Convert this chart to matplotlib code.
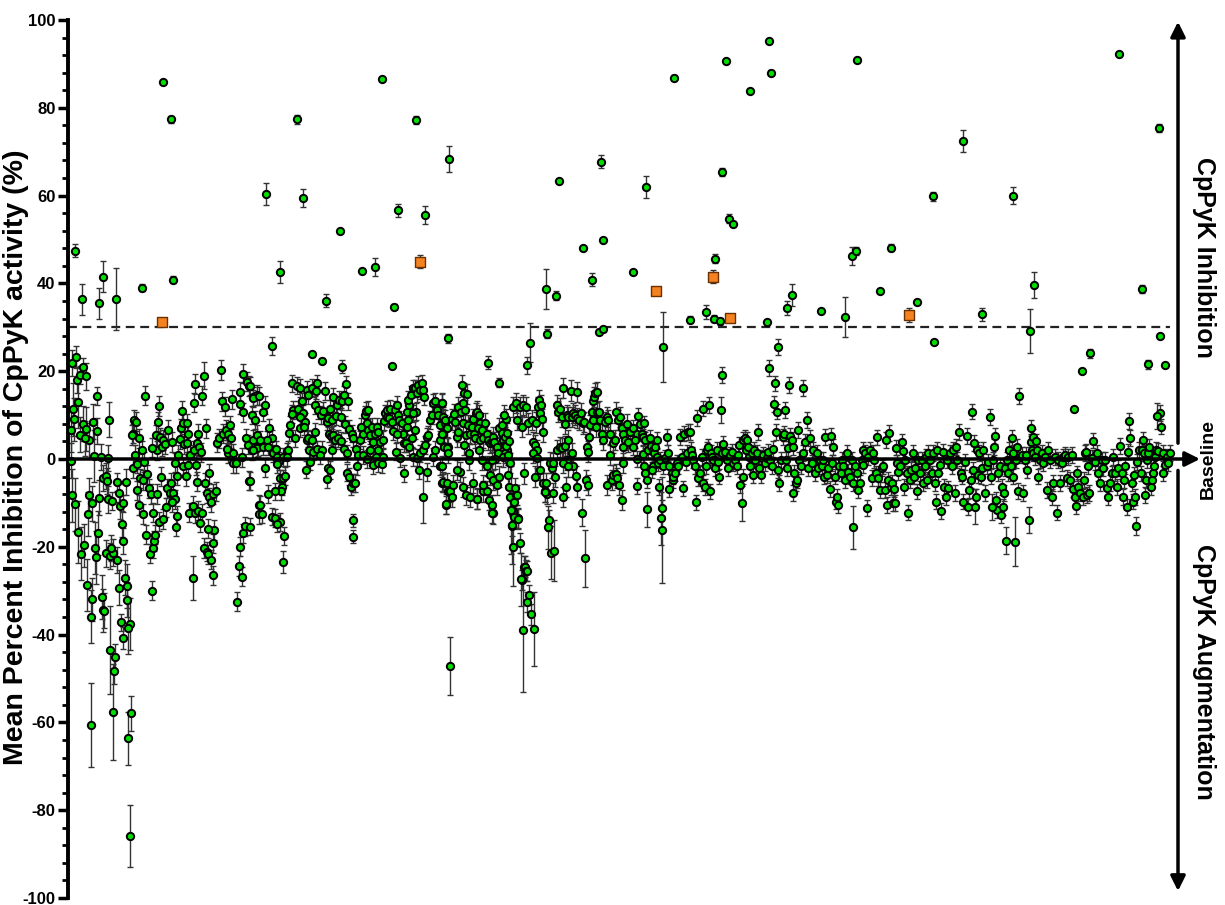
import numpy as np
import matplotlib
matplotlib.use('Agg')
import matplotlib.pyplot as plt
from matplotlib.ticker import MultipleLocator

plt.rcParams['font.family'] = ['Liberation Sans', 'DejaVu Sans']

# x = position of the compound in the screening order, y = mean % inhibition
# first compounds on the plate: (position, mean, SD)
block_a = [
    (4, 21.8, 3), (8, 23.3, 2.5), (9, 18, 3), (12, 19.1, 2), (15, 21, 2), (18, 18.8, 3), (5, 11.3, 6), (6, 9, 5),
    (10, 13, 6), (3, 6.6, 5), (12, 5.5, 4), (15, 8, 4), (18, 6.8, 5), (21, 4.3, 4), (17, 4.7, 4), (25, 8.5, 4),
    (29, 14.4, 2), (29, 6.4, 3), (26, 0.7, 6), (33, 0.5, 3), (40, 0.3, 3), (41, 8.9, 4), (3, -0.4, 4),
    (4, -8.3, 6), (7, -10.3, 6), (10, -16.6, 7), (13, -21.6, 6), (16, -19.7, 5), (20, -12.6, 5), (21, -8.3, 4),
    (24, -10.1, 4), (19, -28.7, 6), (24, -32, 5), (23, -35.9, 6), (27, -20.3, 6), (28, -22.4, 6), (30, -16.9, 5),
    (31, -8.8, 4), (34, -31.5, 5), (35, -34.5, 5), (35, -4.4, 3), (38, -3.8, 3), (39, -5, 3), (40, -9.2, 3),
    (44, -9.6, 2), (38, -21.5, 3), (42, -22.1, 3), (45, -21.3, 3), (43, -20.3, 3), (49, -23, 3), (49, -5.2, 2),
    (51, -7.8, 2), (52, -10.7, 3), (55, -10.1, 2), (54, -14.8, 3), (55, -18.7, 3), (57, -27, 4), (59, -28.9, 5),
    (59, -32.1, 4), (58, -5.2, 3), (51, -29.3, 4),
    (23, -60.6, 9.5), (36, -34.6, 4), (42, -43.5, 10), (47, -45.1, 3), (46, -48.3, 3), (45, -57.6, 11),
    (53, -37.2, 2), (55, -40.8, 2.5), (62, -37.6, 6), (60, -38.5, 6), (60, -63.6, 6), (63, -57.9, 4), (62, -85.9, 7),
]

# dense blocks: (position, mean); one typical SD per block
block_b_sd = 2.2
block_b = [
    (65, 5.8), (66, 8.9), (68, 8.5), (64, 5.5), (71, 4.7), (74, 2), (67, 1), (65, -2.1), (69, -1.1), (76, -0.7),
    (69, -7.1), (72, -4.4), (75, -4.8), (71, -10.5), (75, -12.5), (78, -17.2), (82, -21.6), (85, -20.3), (86, -18.7),
    (87, -17.2), (84, -30), (79, -3.5), (81, -6.7), (83, -8), (85, -12.2), (89, -8),
    (77, 14.4), (91, 12.1), (90, 8.5), (89, 2), (84, 2.6), (88, 5.5), (92, 4.9), (95, 4.3), (94, 2.8),
    (93, -4), (91, -14.3), (95, -13.7), (98, -11), (99, -6.7), (102, -7.8), (105, -7.7), (103, -5.5), (107, -9.2),
    (108, -15.4), (109, -13), (104, -9.9),
    (97, 3.4), (100, 6.6), (104, 3.9), (107, -0.8), (109, -3.8), (110, 0.9), (112, 4.5), (113, 7), (114, 10.9),
    (115, 8.3), (119, 8.1), (120, 5.8), (116, 3.4), (119, 3.7), (122, 0.9), (115, -1.7), (118, -3.9), (120, -1.4),
    (121, -12.2), (125, -10.7), (127, -12.4), (130, -11.8), (132, -14.5), (134, -12.4), (129, -5.2), (128, -1.4),
    (126, 2), (129, 3.6), (131, 2.8), (130, 5.8), (126, 12.8), (127, 17.1), (134, 14.4), (138, 7), (133, 1.5),
    (136, -20.3), (139, -21.1), (140, -21.7), (143, -22.9), (145, -26.5), (145, -19.2), (146, -16.2), (140, -15.9),
    (139, -7.8), (141, -8.7), (143, -9.9), (145, -8), (148, -7.4), (137, -5.4), (141, -3.3),
    (149, 3.7), (151, 4.7), (153, 20.3), (154, 13.1), (157, 11.9), (155, 5.8), (158, 6.6), (160, 5.8), (162, 7.7),
    (164, 13.6), (163, 4.7), (160, 1.3), (165, -1), (168, -1), (165, 1.3), (159, 2.2),
    (172, 15.3), (172, 12.5), (175, 19.4), (175, 10.6), (179, 17.6), (181, 16.6), (185, 14.2), (189, 14.6),
    (174, 0.4), (178, 4.7), (180, 3.3), (184, 2), (185, 4.3), (189, 5.5), (190, 2.8),
    (181, -4.9), (175, -16.9), (172, -20), (171, -24.4), (174, -26.8), (177, -15.3), (169, -32.5), (191, -10.5),
    (191, -12.5),
]

block_c_sd = 2.0
block_c = [
    (182, 16.6), (185, 13.8), (191, 14.4), (197, 12.3), (195, 10.6), (184, 10), (187, 8.9), (201, 7), (204, 4.7),
    (199, 4.3), (192, 4.3), (189, 2.4), (195, 2.8), (185, 2), (200, 2.8), (205, 1.3), (209, 0.5), (211, -0.4),
    (208, 2.2), (215, 0.5), (219, 1.7), (220, 2),
    (182, -5), (197, -2.1), (209, -1.2), (212, -4.4), (215, -4.4), (217, -3.9), (214, -6.3), (213, -7.4), (200, -8),
    (207, -7.4), (192, -10.5), (194, -12.5), (204, -13.1), (207, -13.4), (212, -14.3), (209, -14.7), (216, -17.5),
    (182, -15.4),
    (224, 17.2), (229, 16.7), (232, 16.2), (234, 13.1), (225, 11.2), (224, 10.3), (230, 11.3), (235, 10.4),
    (232, 9.6), (237, 8.5), (222, 7.7), (221, 6), (227, 4.7), (232, 7), (236, 7.4), (239, 4.3), (240, 4.7),
    (244, 4.3), (247, 6.2), (241, 2), (245, 1.7), (249, 2.2), (254, 2), (252, 0.9), (242, -0.6), (238, -2.4),
    (219, 0.4),
    (239, 15.7), (244, 16.2), (249, 17.2), (248, 15.6), (240, 14.6), (247, 12.3), (250, 11.2), (253, 10), (255, 11),
    (257, 15.5), (259, 8.5), (260, 9.3), (262, 11.5), (264, 8.9), (261, 5.8), (263, 5.2), (265, 5.5), (267, 4.3),
    (264, 2), (260, -2.1), (259, -4.6), (262, -2.5),
    (265, 14.2), (268, 9.8), (269, 12.3), (271, 13.4), (274, 13.1), (276, 14.6), (278, 17), (280, 13.1), (270, 4.7),
    (273, 4.2), (276, 2.2), (279, 1.3), (273, 9.6), (277, 7.9), (281, 6.8), (279, -3.1), (281, -4), (283, -6.3),
    (285, -5.5), (287, -5.5), (289, -1.7),
    (284, 5.8), (285, 4.7), (288, 2.2), (290, 0.9), (292, 4.3), (293, 7.4), (295, 5.8), (297, 10), (298, 11),
    (300, 11.2), (299, 8.1), (300, 6.6), (302, 5.5), (304, 7.4), (305, 3.9), (302, 2), (307, 5.8), (309, 7.4),
    (310, 6.2), (312, 3.9), (310, 2), (308, 0.5), (305, -1.4), (310, -1), (314, -1.1), (315, 0.5), (295, 0.9),
    (299, 0),
    (316, 8.7), (317, 10.4), (319, 9.6), (319, 11.2), (322, 11.5), (321, 9.3), (324, 8.5), (325, 6.4), (315, 4.3),
    (327, 11.2), (329, 12.3), (330, 10), (331, 8.9), (334, 8.1), (335, 5.8), (336, 3.7), (329, 5.8), (328, 1.7),
    (332, 0.2), (336, -3.3), (338, 3.7), (339, 7.4), (340, 8.9), (339, 10.8), (341, 12.3), (340, 13.4), (343, 14.6),
    (345, 16.1), (347, 16.1), (349, 15), (350, 16.9), (352, 15.7), (354, 17.2), (355, 15.7), (356, 14.2),
    (348, 10.8), (345, 10.4), (347, 6.6), (344, 4.7), (341, 2.8), (345, 0.5), (349, 0.3), (352, 1.3), (355, 2),
    (357, 3.2), (359, 5.1), (360, 5.5), (362, 8.9), (364, 10), (365, 12.8), (367, 13.1), (369, 11.2), (370, 10),
    (372, 7.7), (374, 12.8), (375, 9.4), (377, 8.1), (379, 7), (380, 2.8), (375, 5.8), (372, 4.3), (367, 2),
    (365, 0.5), (351, -2.5), (359, -2.9), (372, -1.7), (374, -5.4), (375, -5.5), (378, -10.5), (380, -7.4),
]

block_d_sd = 2.3
block_d = [
    (374, 12.8), (375, 9.6), (377, 8.9), (374, 5.8), (376, 2.8), (379, 2.4), (374, -1.7), (375, -5.2), (379, -5.5),
    (382, -7.4), (384, -8.6), (378, -10.3), (385, -5.9), (380, 1.3),
    (384, 9), (386, 10.3), (387, 8.5), (389, 5.1), (390, 6.2), (390, 11.9), (393, 10.8), (394, 16.9), (396, 15),
    (399, 14.8), (395, 12.7), (397, 11.2), (395, 8.1), (400, 7.7), (398, 5.5), (396, 3.2), (401, 1.3), (402, 5.8),
    (404, 7.4), (405, 9), (406, 5.8), (408, 10.4), (409, 10.8), (411, 10), (412, 8.1), (410, 7), (407, 4.7),
    (412, 4.3), (414, 6.6), (415, 4.7), (411, 2), (414, -0.2), (392, -2.9), (389, -2.5), (395, -6.3), (398, -8.2),
    (402, -8.6), (405, -5.4), (409, -9), (401, -0.2),
    (417, 8.1), (419, 5.8), (420, 4.3), (422, 3.6), (424, 3.9), (425, 5.1), (426, 3.9), (429, 2.8), (430, 1.3),
    (431, 7), (434, 7.7), (434, 6), (435, 4.3), (437, 3.2), (439, 2), (437, 1.3), (435, 0.4), (427, 0),
    (424, -0.2), (419, -1.6), (422, -3.6), (425, -4.8), (429, -5.9), (431, -4), (415, -7.4), (419, -7.2),
    (421, -9.3), (424, -10.5), (425, -12.4), (415, -5.9), (409, -9.2), (424, -12.2),
    (440, -3.6), (441, -6.3), (442, -8.6), (445, -12.4), (446, -9.7), (447, -6.7), (448, -8.2), (449, -8.2),
    (450, -13.5), (452, -19.2), (454, -27.6), (456, -24.5), (457, -24.5), (458, -25.4), (459, -25.5), (461, -31),
    (459, -32.6), (463, -35.4), (456, -3.3), (445, -11.8), (446, -13.1), (450, -13.7), (444, -15.3),
    (437, 5), (438, 3), (439, 6), (440, 1), (441, 4), (442, -1), (438, 9), (436, 10),
    (445, 11.9), (448, 12.8), (449, 8.9), (452, 11.9), (454, 7.4), (455, 12.3), (458, 11.9), (460, 8.1), (464, 8.9),
    (465, 3.9), (467, 3.2), (469, 2), (471, 13.4), (470, 11.9), (472, 10.4), (473, 12.3), (468, 8.3), (474, 9),
    (475, 6.2), (465, 1.3), (469, 0.2), (467, -4), (472, -2.5), (475, -5.5), (477, -7.4), (479, -8), (481, -14),
    (485, -7.8), (487, -4), (484, -2.1), (482, -0.8), (485, -1), (477, -7.6), (478, -5.5),
    (489, 12.3), (490, 10.8), (492, 11.5), (495, 16.1), (494, 9.6), (497, 8), (499, 10), (500, 9.6), (503, 15.6),
    (504, 9.6), (505, 10.4), (507, 10), (509, 15.3), (509, 9.3), (511, 8.9), (513, 10.4), (515, 8.1), (516, 8.5),
    (489, 2), (492, 2.8), (494, 2.4), (497, 3), (500, 4.3), (504, 1.3), (499, -0.2), (495, -1), (505, -1.7),
    (500, -1.7), (495, -8.6), (498, -6.3), (508, -3.9), (509, -6.3), (518, -4.8), (520, -5.9), (519, 2.8),
    (520, 1.7), (521, 5.1), (522, 7.7), (524, 10.8), (525, 13.1), (526, 14.2), (527, 15), (529, 15.3), (525, 8.9),
    (528, 7.4), (529, 10.6), (531, 10.8), (532, 8.9), (534, 5.8), (535, 4.3), (537, 8.5), (539, 9.5), (540, 8.9),
    (542, 5.8), (542, 0.9), (539, -5.9), (544, -4.8), (545, -3.6), (548, -3.4), (549, -4.4), (551, -5.9),
    (554, -9.3), (545, 3.7), (547, 4.3), (548, 10.6), (550, 8.9), (552, 9.6), (554, 7), (555, 5.8), (555, 2.8),
    (555, -1), (557, 4.3), (559, 8), (560, 3.9),
]

block_e_sd = 1.8
block_e = [
    (562, 6.2), (565, 7), (569, 5.8), (570, 9.8), (572, 8), (574, 5.8), (575, 5.1), (576, 8.1), (577, 4.3),
    (567, 4.3), (565, 2.8), (569, 0), (575, 1.1), (576, -1.7), (577, -3.3), (579, -4.8), (569, -6.2), (580, 2),
    (582, 4.7), (583, 3), (585, 2), (586, 1.3), (585, -1.7), (584, -2.5), (587, 2.8), (589, 4.3), (589, 0.4),
    (590, -1), (592, -0.2), (591, -6.3), (594, -11.2), (595, -1.7), (597, 0.2), (599, 5.1), (600, 1.3), (601, -1.7),
    (601, -6.9), (604, -3.3), (605, -4.8), (605, -4), (607, -3.3), (609, -1), (610, -1.7), (612, 5.1), (614, 0.4),
    (615, -6.7), (616, 5.8), (618, -0.6), (619, 1.3), (620, 6.2), (622, 6.2), (623, 2), (624, 0.9), (625, -0.2),
    (627, -1.7), (628, -9.9), (629, 9.3), (630, -4.4), (632, -3.3), (634, 0.5), (635, 11.5), (635, -5.5),
    (637, -6.3), (638, -1.7), (639, 2), (640, 2.8), (641, 12.3), (642, -7.4), (643, 1.3), (644, 0.5), (645, -0.2),
    (647, -2.1), (649, 2), (650, -0.6), (651, -4), (654, 1.3), (654, 19.1), (655, 3.4), (657, 1.7), (659, -0.2),
    (660, -2.1), (662, 0.9), (664, 1.7), (665, -1), (667, -0.2), (669, -1.7), (670, 0.9), (671, 3.2), (672, -5.9),
    (675, -4), (675, 4.3), (677, 4.7), (678, 2), (679, 4.3), (680, 2.8), (681, 0.5), (682, -1.7), (684, 1.3),
    (685, -3.6), (686, 2), (687, -0.2), (689, 1.3), (690, 6.2), (691, -2.1), (693, -3.6), (694, 0.2), (695, 0.9),
    (697, -1), (699, 0.2), (700, 1.7), (701, 20.7), (702, -0.2), (704, -1.7), (705, 2.2), (706, 12.5), (707, 17.2),
    (708, 6.2), (709, 10.8), (710, 25.6), (710, -2.5), (711, -5.5), (713, -0.2), (715, 5.1), (716, 5.8),
    (717, 11.2), (718, -0.2), (719, -2.1), (720, 2.4), (721, 16.9), (722, 5.2), (724, 4.3), (725, 2.8),
    (725, -7.8), (726, -3.1), (728, -5.5), (729, -4.8), (730, 6.6), (731, -0.2), (733, -1.7), (735, 16.1),
    (735, 1.3), (737, 3.9), (739, 8.9), (740, -2.1), (742, 4.7), (744, -1), (745, 2), (747, -3.3), (749, 1.3),
    (750, -2.1), (752, -0.2),
]

block_f_sd = 1.8
block_f = [
    (754, -1.7), (755, -0.2), (756, -4), (757, 5.1), (759, -3.6), (760, -2.1), (762, -6.9), (763, 5.2), (764, -1),
    (765, 2.8), (767, -4), (768, -9.7), (769, -8.7), (770, -10.5), (771, -1.7), (773, -3.3), (774, -0.2),
    (775, -1.7), (777, -4.8), (779, 1.3), (780, -2.9), (782, -4), (784, -0.2), (785, -5.5), (787, -1.7),
    (789, -3.3), (790, -7.1), (792, -5.5), (794, -0.2), (795, 2), (795, -1.4), (797, 1.3), (799, -11.2), (800, 0.5),
    (802, 2), (804, -4.4), (805, 1.3), (806, -0.2), (808, -3.3), (809, 4.9), (810, -4.4), (812, -7.1), (814, -2.1),
    (815, -1.7), (817, -7.1), (818, 4.3), (819, -10.5), (820, -4.8), (821, 6), (823, -6.3), (824, -5.5),
    (825, -10.1), (826, -6.9), (827, -10.1), (828, 2.6), (829, -1), (830, -2.9), (832, -1.7), (834, 3.9),
    (835, 1.9), (836, -6.3), (837, -0.2), (839, -3.3), (840, -12.2), (842, -4.8), (843, -2.5), (845, 1.3),
    (846, -4), (847, -2.1), (849, -7.4), (850, -0.2), (852, -3.3), (854, -0.2), (855, -5.5), (857, -1.7),
    (858, 0.5), (859, -4.8), (860, 1.3), (862, -0.2), (864, -3.3), (865, 1.3), (867, -5.5), (868, -9.7), (869, 2),
    (870, -3.3), (872, -1.4), (873, -11.8), (875, 1.7), (876, -6.3), (878, -8.6), (879, -0.2), (880, -6.7),
    (882, 1.3), (884, -1.7), (885, 2), (887, -7.8), (888, 2.8), (889, -0.2), (891, 6.2), (893, -3.3), (894, -4),
    (895, -9.7), (897, -0.6), (899, 5.2), (900, -11), (901, -7.1), (903, -4.8), (904, 10.8), (905, -2.5),
    (906, 3.6), (908, -8.6), (909, 2), (910, -3.6), (911, 1.3), (913, -4), (914, -2.1), (915, 2), (917, -7.8),
    (919, -1.7), (920, -0.6), (922, 9.5), (923, -4), (925, -0.2), (926, 2.8), (927, 5.2), (928, -9.3),
    (929, -11.6), (930, -3.3), (932, -1.7), (933, -12.8), (934, -6.3), (935, -11), (936, -7.8), (937, -2.1),
    (939, -0.2), (940, -3.3), (941, 2), (943, -1.7), (944, 4.7), (945, -4), (945, 1.3), (948, -0.2), (949, 2.8),
    (950, -7.2), (951, 14.4),
]

block_g_sd = 1.8
block_g = [
    (954, 0.9), (955, -7.8), (957, -0.2), (958, 0.9), (959, -2.5), (963, 3.9), (964, 2), (965, 1.3), (963, 7),
    (965, 5), (968, 4), (967, 0.5), (969, 2), (970, -4), (972, -0.2), (974, 1.3), (975, -1), (977, 0.5),
    (979, -7.1), (980, 2), (982, -0.2), (984, -8.6), (985, -5.5), (987, 0.5), (989, -12.2), (990, -0.2),
    (992, -5.5), (994, -1), (995, 0.5), (997, 0.9), (999, -4.4), (1000, 0.5), (1002, -4.8), (1004, 0.9),
    (1005, -6.9), (1007, -8.6), (1008, -10.7), (1009, -3.3), (1010, -6.3), (1012, -7.8), (1015, -8.6),
    (1016, -4.8), (1017, 1.3), (1018, 1.7), (1019, -8.2), (1020, -1.7), (1021, -7.8), (1024, 0.2), (1025, 4.2),
    (1027, -0.6), (1029, 1.3), (1030, -3.3), (1032, -5.5), (1034, -0.2), (1035, -2.1), (1037, -0.2), (1039, -6.7),
    (1040, -8.6), (1042, -5.5), (1044, -3.3), (1045, 0.5), (1047, -3.3), (1049, -6.3), (1050, -2.1), (1052, 3),
    (1054, -3.3), (1055, -8.6), (1056, -4.8), (1057, -1.7), (1059, -10.9), (1060, 1.7), (1061, 8.7), (1062, 4.7),
    (1064, -5.5), (1065, -9.7), (1066, -3.6), (1067, -8.6), (1069, -0.6), (1071, 2), (1073, -3.3), (1074, 2),
    (1075, 4.3), (1076, 1.3), (1077, -8.2), (1078, -4.8), (1079, -0.2), (1080, 1.3), (1081, 2.8), (1083, -6.3),
    (1084, -4.8), (1085, -3.3), (1086, -1.7), (1087, 0.5), (1088, 2), (1090, 1.9), (1092, 10.4), (1093, 7.4),
    (1095, 1.3), (1095, -3.3), (1097, -1.4), (1099, 0.5), (1100, -1), (1102, 1.4),
]

# compounds with long error bars: (position, mean, SD)
wide = [
    (355, -8.6, 6), (215, -23.4, 2.5), (285, -17.7, 1.5), (285, -14, 1.5), (382, -47.2, 6.6), (455, -39, 14),
    (466, -38.7, 8.5), (445, -20, 9), (453, -27.4, 6), (443, -11.6, 10), (444, -15, 9), (459, 21.3, 2),
    (462, 26.5, 4.5), (517, -22.6, 6.5), (514, -12.2, 3), (595, 25.5, 8), (594, -16.2, 12), (593, -13.5, 6),
    (579, -11.5, 4), (674, -10.1, 4), (785, -15.6, 5), (938, -18.6, 3), (947, -18.8, 5.5), (924, -10.9, 3),
    (907, -10.9, 4), (961, -13.9, 3), (1068, -15.3, 2), (1089, 9.8, 3), (653, 11.2, 3), (483, -21.3, 6),
    (486, -20.9, 7), (480, -15.6, 5), (125, -27.2, 5), (136, 19, 3),
]

# high inhibitors and near-cut-off compounds: (position, mean, SD)
upper = [
    (7, 47.4, 1.5), (14, 36.4, 3.5), (31, 35.5, 3.5), (35, 41.5, 3.5), (48, 36.4, 7), (74, 39, 0.8), (95, 85.9, 0.5),
    (103, 77.4, 0.8), (105, 40.8, 0.8), (198, 60.4, 2.5), (229, 77.4, 1), (235, 59.5, 2), (212, 42.6, 2.5),
    (272, 51.9, 0.5), (258, 36.1, 1.5), (294, 42.8, 0.5), (307, 43.7, 2), (314, 86.6, 0.5), (330, 56.7, 1.5),
    (326, 34.7, 0.5), (348, 77.2, 1), (357, 55.6, 2), (381, 68.3, 3), (478, 38.7, 4.5), (488, 37.2, 1),
    (491, 63.3, 0.5), (515, 48.1, 0.5), (524, 40.8, 1.5), (533, 67.7, 1.5), (535, 49.9, 0.5), (565, 42.6, 0.5),
    (578, 62, 2.5), (606, 86.9, 0.5), (622, 31.7, 0.8), (638, 33.5, 1.5), (646, 31.9, 0.8), (647, 45.6, 1),
    (652, 31.4, 0.8), (654, 65.4, 1), (658, 90.7, 0.5), (661, 54.7, 1), (665, 53.5, 0.5), (682, 83.8, 0.5),
    (699, 31.2, 0.5), (701, 95.2, 0.3), (703, 88, 0.5), (719, 34.4, 1.5), (724, 37.4, 2.5), (753, 33.7, 0.5),
    (777, 32.3, 4.5), (784, 46.3, 2), (788, 47.4, 1), (789, 91, 0.5), (812, 38.3, 0.5), (823, 48.1, 0.8),
    (849, 35.8, 0.5), (865, 59.8, 1), (895, 72.5, 2.5), (914, 33, 1.5), (945, 60, 2), (966, 39.6, 3),
    (1051, 92.3, 0.3), (1074, 38.7, 1), (1091, 75.4, 1),
    (420, 21.9, 1.5), (431, 17.4, 1), (479, 28.5, 1), (531, 29, 0.5), (535, 29.5, 0.5), (866, 26.7, 0.5),
    (1092, 28, 0.5), (380, 27.5, 1), (204, 25.7, 2), (244, 23.9, 0.5), (254, 22.4, 0.5), (274, 21, 1.5),
    (324, 21.2, 0.5), (962, 29.2, 5), (1006, 11.4, 0.5), (1014, 20, 0.5), (1022, 24.1, 1), (1080, 21.6, 1),
    (1097, 21.4, 0.5),
]

# reference inhibitors (orange squares)
controls = [(94, 31.2, 0.8), (352, 44.9, 1.5), (588, 38.2, 0.8), (645, 41.5, 1.5), (662, 32.1, 0.5), (841, 32.8, 1.5)]

cutoff = 30
y_ticks = [-100, -80, -60, -40, -20, 0, 20, 40, 60, 80, 100]


def with_sd(pairs, sd):
    arr = np.array(pairs, dtype=float)
    return np.column_stack([arr, np.full(len(arr), sd)])


green = np.vstack([
    np.array(block_a, dtype=float),
    with_sd(block_b, block_b_sd),
    with_sd(block_c, block_c_sd),
    with_sd(block_d, block_d_sd),
    with_sd(block_e, block_e_sd),
    with_sd(block_f, block_f_sd),
    with_sd(block_g, block_g_sd),
    np.array(wide, dtype=float),
    np.array(upper, dtype=float),
])
orange = np.array(controls, dtype=float)

fig = plt.figure(figsize=(12.25, 9.05), dpi=100)
ax = fig.add_axes([68 / 1225, 7 / 905, 1110 / 1225, 878 / 905])

ax.errorbar(green[:, 0], green[:, 1], yerr=green[:, 2], fmt='none', ecolor='#333333',
            elinewidth=1, capsize=2.2, capthick=1, zorder=2)
ax.scatter(green[:, 0], green[:, 1], s=28, c='#00dd00', edgecolors='black', linewidths=1.4, zorder=3)
ax.errorbar(orange[:, 0], orange[:, 1], yerr=orange[:, 2], fmt='none', ecolor='#333333',
            elinewidth=1, capsize=2.2, capthick=1, zorder=4)
ax.scatter(orange[:, 0], orange[:, 1], s=46, marker='s', c='#f58220', edgecolors='#6b3000', linewidths=1,
           zorder=5)

ax.plot([0, 1102], [cutoff, cutoff], color='#222222', lw=1.6, ls=(0, (4, 2.5)), zorder=1)

ax.set_xlim(0, 1110)
ax.set_ylim(-100, 100)
for side in ['top', 'right', 'bottom']:
    ax.spines[side].set_visible(False)
ax.spines['left'].set_linewidth(2.8)
ax.set_xticks([])
ax.set_yticks(y_ticks)
ax.set_yticklabels([str(t) for t in y_ticks], fontweight='bold', fontsize=12)
ax.yaxis.set_minor_locator(MultipleLocator(4))
ax.tick_params(axis='y', which='major', length=7, width=2.5, pad=2)
ax.tick_params(axis='y', which='minor', length=4, width=2)

arrow = dict(arrowstyle='-|>', color='black', lw=2.5, mutation_scale=22, shrinkA=0, shrinkB=0)
ax.annotate('', xy=(1132, 0), xytext=(0, 0), arrowprops=arrow, annotation_clip=False, zorder=6)
ax.annotate('', xy=(1110, 99.6), xytext=(1110, 3.6), arrowprops=arrow, annotation_clip=False)
ax.annotate('', xy=(1110, -98.4), xytext=(1110, -2.6), arrowprops=arrow, annotation_clip=False)

fig.text(16.5 / 1225, 1 - 457 / 905, 'Mean Percent Inhibition of CpPyK activity (%)', rotation=90,
         ha='center', va='center', fontsize=20.5, fontweight='bold')
fig.text(1204 / 1225, 1 - 257 / 905, 'CpPyK Inhibition', rotation=270, ha='center', va='center',
         fontsize=18, fontweight='bold')
fig.text(1208 / 1225, 1 - 459 / 905, 'Baseline', rotation=90, ha='center', va='center',
         fontsize=14, fontweight='bold')
fig.text(1204 / 1225, 1 - 672 / 905, 'CpPyK Augmentation', rotation=270, ha='center', va='center',
         fontsize=18, fontweight='bold')

fig.savefig('out.png', dpi=100)
